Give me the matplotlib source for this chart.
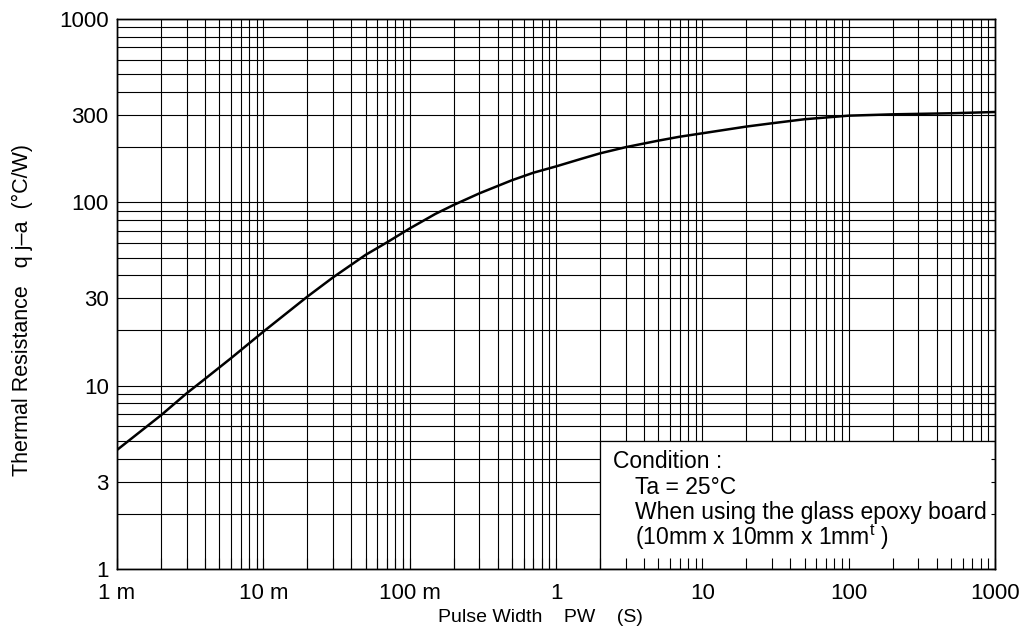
import matplotlib
matplotlib.use("Agg")
import matplotlib.pyplot as plt
from matplotlib.patches import Rectangle
from matplotlib.ticker import LogLocator, NullFormatter, FixedLocator

plt.rcParams['font.family'] = ['Liberation Sans', 'DejaVu Sans']
plt.rcParams['mathtext.fontset'] = 'custom'
plt.rcParams['mathtext.rm'] = 'Liberation Sans'

# transient thermal resistance curve
pulse_width = [1e-3, 2e-3, 3e-3, 4e-3, 6e-3, 1e-2, 2e-2, 3e-2, 5e-2, 7e-2, 0.1,
               0.15, 0.2, 0.3, 0.5, 0.7, 1, 1.5, 2, 3, 5, 7, 10, 20, 30, 50,
               100, 200, 500, 1000]
rth = [4.46, 6.9, 9.1, 10.9, 14.1, 19.7, 30.6, 39, 51.7, 60.5, 72,
       86.5, 96.8, 112, 132, 145, 157, 173, 185, 200, 217, 228, 238, 259, 270, 284,
       297, 302, 306, 311]

x_ticks = [1e-3, 1e-2, 1e-1, 1, 10, 100, 1000]
x_labels = ['1 m', '10 m', '100 m', '1', '10', '100', '1000']
y_ticks = [1, 3, 10, 30, 100, 300, 1000]
y_labels = ['1', '3', '10', '30', '100', '300', '1000']

condition_title = 'Condition :'
condition_lines = ['Ta = 25°C', 'When using the glass epoxy board',
                   '(10mm x 10mm x 1mm$^{\\rm t}$ )']

fig = plt.figure(figsize=(10.24, 6.36), dpi=100)
pos = [117 / 1024, 1 - 569 / 636, 878 / 1024, 550 / 636]
ax = fig.add_axes(pos)
ax.set_xscale('log')
ax.set_yscale('log')
ax.set_xlim(1e-3, 1e3)
ax.set_ylim(1, 1000)
ax.set_axisbelow(True)

ax.xaxis.set_major_locator(FixedLocator(x_ticks))
ax.set_xticklabels(x_labels)
ax.xaxis.set_minor_locator(LogLocator(base=10, subs=range(2, 10), numticks=20))
ax.yaxis.set_major_locator(FixedLocator(y_ticks))
ax.set_yticklabels(y_labels)
ax.yaxis.set_minor_locator(LogLocator(base=10, subs=range(2, 10), numticks=20))
ax.xaxis.set_minor_formatter(NullFormatter())
ax.yaxis.set_minor_formatter(NullFormatter())

ax.grid(which='both', color='black', linewidth=0.8)
ax.tick_params(which='both', direction='in', length=0, labelsize=16)
ax.tick_params(axis='x', pad=10)
ax.tick_params(axis='y', pad=6)
for s in ax.spines.values():
    s.set_linewidth(1.0)

ax.plot(pulse_width, rth, color='black', linewidth=1.8, zorder=3)

# white box with the test condition
box = Rectangle((0.55, 0.0), 0.45, 0.2327, transform=ax.transAxes,
                facecolor='white', edgecolor='black', linewidth=0.9, zorder=2)
ax.add_patch(box)
ax.text((613 - 117) / 878, (569 - 462) / 550, condition_title, transform=ax.transAxes,
        fontsize=16.5, va='center', ha='left', zorder=4)
for i, line in enumerate(condition_lines):
    ax.text((635 - 117) / 878, (569 - 487 - i * 25) / 550, line, transform=ax.transAxes,
            fontsize=16.5, va='center', ha='left', zorder=4)

# tick stubs drawn over the box
ax2 = fig.add_axes(pos, facecolor='none')
ax2.set_xscale('log')
ax2.set_yscale('log')
ax2.set_xlim(1e-3, 1e3)
ax2.set_ylim(1, 1000)
ax2.xaxis.set_minor_locator(LogLocator(base=10, subs=range(1, 10), numticks=20))
ax2.yaxis.set_minor_locator(LogLocator(base=10, subs=range(1, 10), numticks=20))
ax2.tick_params(which='both', direction='in', labelbottom=False, labelleft=False,
                bottom=True, right=True, left=False, top=False, width=0.8, color='black')
ax2.tick_params(axis='x', which='both', length=8)
ax2.tick_params(axis='y', which='both', length=3)
for s in ax2.spines.values():
    s.set_linewidth(1.0)

ax.set_xlabel('Pulse Width    PW    (S)', fontsize=14)
ax.xaxis.set_label_coords((540 - 117) / 878, -(618 - 569) / 550)
ax.xaxis.label.set_va('center')
ax.set_ylabel('Thermal Resistance   q j–a  (°C/W)', fontsize=15.5)
ax.yaxis.set_label_coords((22 - 117) / 878, (569 - 310) / 550)
ax.yaxis.label.set_va('center')

fig.savefig('out.png', dpi=100)
